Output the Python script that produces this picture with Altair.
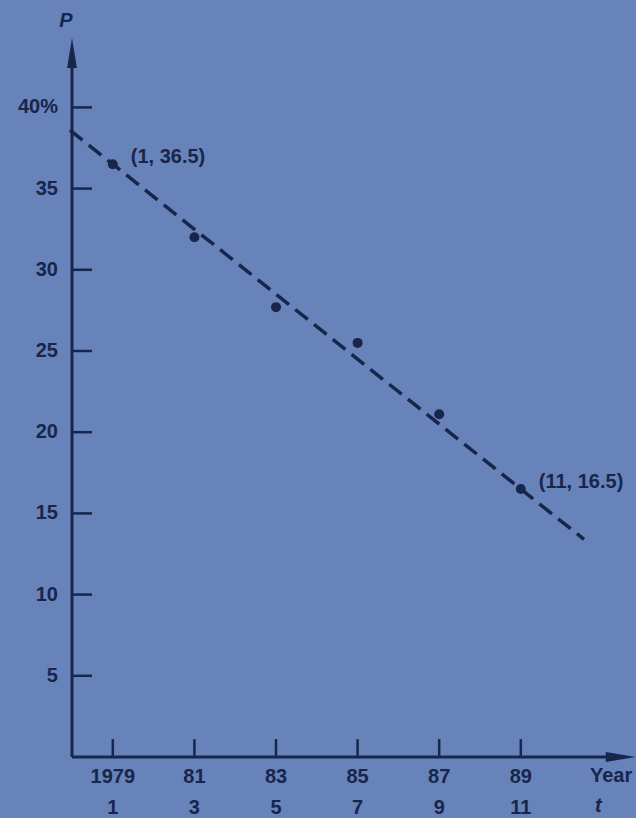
import altair as alt
import pandas as pd

# ---- data ----
t_vals = [1, 3, 5, 7, 9, 11]
p_vals = [36.5, 32.0, 27.7, 25.5, 21.1, 16.5]
year_labels = ["1979", "81", "83", "85", "87", "89"]
t_labels = ["1", "3", "5", "7", "9", "11"]
p_ticks = [5, 10, 15, 20, 25, 30, 35, 40]
p_tick_labels = ["5", "10", "15", "20", "25", "30", "35", "40%"]
fit_t = [-0.05, 12.55]
fit_p = [38.6, 13.4]          # fitted line P = 38.5 - 2t
annot_t = [1, 11]
annot_p = [36.5, 16.5]
annot_text = ["(1, 36.5)", "(11, 16.5)"]
axis_p_end = 43.5             # top of P axis (arrow)
axis_t_end = 13.4             # right end of t axis (arrow)

BG = "#6783ba"
INK = "#18264c"
FONT = "Liberation Sans"

xs = alt.Scale(domain=[-1.7647, 13.8235], nice=False, zero=False)
ys = alt.Scale(domain=[-3.756, 46.613], nice=False, zero=False)


def X(field="t"):
    return alt.X(f"{field}:Q", scale=xs, axis=None)


def Y(field="P"):
    return alt.Y(f"{field}:Q", scale=ys, axis=None)


pts = pd.DataFrame({"t": t_vals, "P": p_vals, "year": year_labels, "tl": t_labels})
fit = pd.DataFrame({"t": fit_t, "P": fit_p})
yt = pd.DataFrame({"P": p_ticks, "label": p_tick_labels})
ann = pd.DataFrame({"t": annot_t, "P": annot_p, "text": annot_text})
axes = pd.DataFrame({"t": [0.0], "P": [0.0], "t2": [axis_t_end], "P2": [axis_p_end]})

fit_line = alt.Chart(fit).mark_line(
    color=INK, strokeWidth=3.5, strokeDash=[16, 8]
).encode(x=X(), y=Y())

dots = alt.Chart(pts).mark_circle(size=100, color=INK, opacity=1).encode(x=X(), y=Y())

y_axis = alt.Chart(axes).mark_rule(color=INK, strokeWidth=3).encode(
    x=X(), y=Y(), y2="P2:Q"
)
x_axis = alt.Chart(axes).mark_rule(color=INK, strokeWidth=3).encode(
    x=X(), x2="t2:Q", y=Y()
)

y_arrow = alt.Chart(axes).transform_calculate(Pa="datum.P2 - 0.15").mark_point(
    shape="M0,-1L0.33,1L-0.33,1Z", size=900, filled=True, color=INK, opacity=1
).encode(x=X(), y=Y("Pa"))

x_arrow = alt.Chart(axes).transform_calculate(ta="datum.t2 + 0.05").mark_point(
    shape="M1,0L-1,-0.33L-1,0.33Z", size=900, filled=True, color=INK, opacity=1
).encode(x=X("ta"), y=Y())

y_ticks = alt.Chart(yt).transform_calculate(t0="0", t1="0.49").mark_rule(
    color=INK, strokeWidth=2.5
).encode(x=X("t0"), x2="t1:Q", y=Y())

x_ticks = alt.Chart(pts).transform_calculate(p0="0", p1="1.1").mark_rule(
    color=INK, strokeWidth=2.5
).encode(x=X(), y=Y("p0"), y2="p1:Q")

TXT = dict(font=FONT, color=INK, fontWeight="bold", fontSize=20)

y_labels = alt.Chart(yt).transform_calculate(t0="0").mark_text(
    align="right", baseline="middle", dx=-14, **TXT
).encode(x=X("t0"), y=Y(), text="label:N")

x_labels1 = alt.Chart(pts).transform_calculate(p0="0").mark_text(
    align="center", baseline="middle", dy=20, **TXT
).encode(x=X(), y=Y("p0"), text="year:N")

x_labels2 = alt.Chart(pts).transform_calculate(p0="0").mark_text(
    align="center", baseline="middle", dy=51, **TXT
).encode(x=X(), y=Y("p0"), text="tl:N")

annots = alt.Chart(ann).mark_text(
    align="left", baseline="middle", dx=18, dy=-7, **TXT
).encode(x=X(), y=Y(), text="text:N")

year_title = alt.Chart(pd.DataFrame({"txt": ["Year"]})).mark_text(
    align="left", baseline="middle", **TXT
).encode(x=alt.value(590), y=alt.value(776), text="txt:N")

t_title = alt.Chart(pd.DataFrame({"txt": ["t"]})).mark_text(
    align="left", baseline="middle", fontStyle="italic", **TXT
).encode(x=alt.value(595), y=alt.value(806), text="txt:N")

p_title = alt.Chart(pd.DataFrame({"txt": ["P"]})).mark_text(
    align="center", baseline="middle", fontStyle="italic", **TXT
).encode(x=alt.value(66), y=alt.value(21), text="txt:N")

chart = alt.layer(
    y_axis, x_axis, y_arrow, x_arrow, y_ticks, x_ticks,
    y_labels, x_labels1, x_labels2,
    fit_line, dots, annots, year_title, t_title, p_title,
).properties(
    width=636, height=818, background=BG, padding=0,
    autosize=alt.AutoSizeParams(type="none"),
).configure_view(stroke=None)

chart.save("out.html", embed_options={"renderer": "svg", "actions": False})
